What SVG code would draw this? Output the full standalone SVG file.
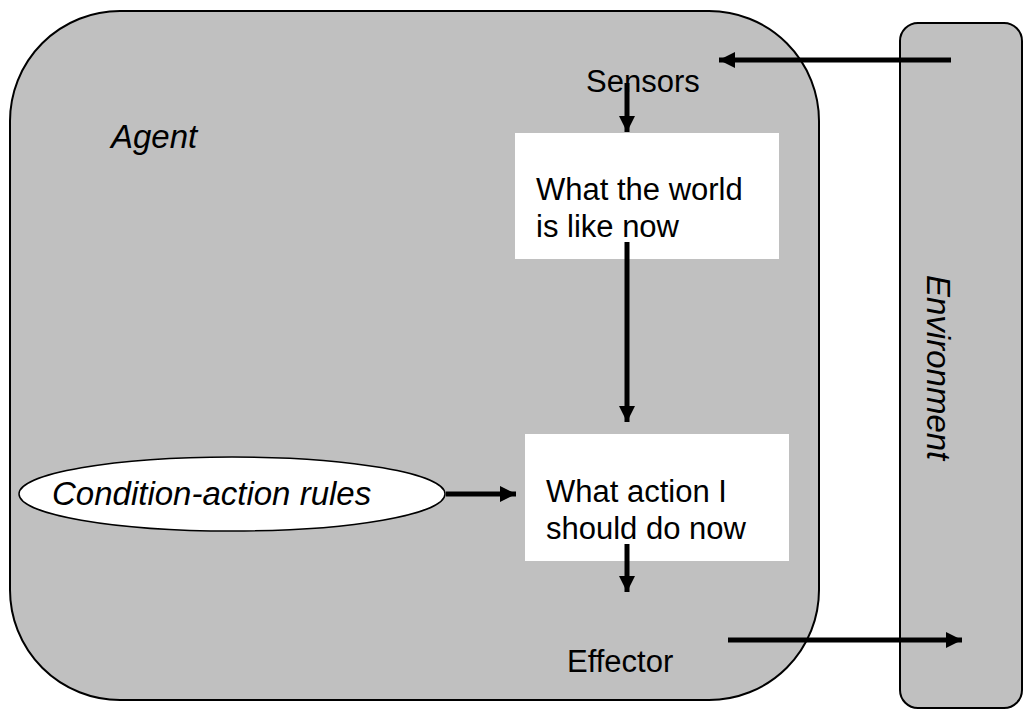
<svg xmlns="http://www.w3.org/2000/svg" width="1024" height="709" viewBox="0 0 1024 709">
<style>
.panel{fill:#c0c0c0;stroke:#000;stroke-width:2}
.box{fill:#fff;stroke:none}
.t{font-family:"Liberation Sans",Arial,sans-serif;font-size:31px;fill:#000}
.it{font-family:"Liberation Sans",Arial,sans-serif;font-size:33px;font-style:italic;fill:#000}
.c{stroke:#000;stroke-width:5;fill:none;marker-end:url(#ah)}
</style>
<defs>
<marker id="ah" markerUnits="userSpaceOnUse" markerWidth="16" markerHeight="16" refX="16" refY="8" orient="auto">
<path d="M0,0 L16,8 L0,16 z" fill="#000"/>
</marker>
</defs>
<g id="agent">
<rect class="panel" x="10" y="11" width="809" height="689" rx="110" ry="110"/>
<text class="it" x="111" y="148">Agent</text>
</g>
<g id="environment">
<rect class="panel" x="900" y="23" width="122" height="685" rx="18" ry="18"/>
<text class="it" transform="translate(927,275) rotate(90)">Environment</text>
</g>
<g id="sensors">
<text class="t" x="586" y="92">Sensors</text>
</g>
<g id="world">
<rect class="box" x="515" y="133" width="264" height="126"/>
<text class="t" x="536" y="200">What the world</text>
<text class="t" x="536" y="237">is like now</text>
</g>
<g id="action">
<rect class="box" x="525" y="434" width="264" height="127"/>
<text class="t" x="546" y="502">What action I</text>
<text class="t" x="546" y="539">should do now</text>
</g>
<g id="rules">
<ellipse cx="232" cy="494" rx="213" ry="37" fill="#fff" stroke="#000" stroke-width="1.5"/>
<text class="it" x="52" y="505">Condition-action rules</text>
</g>
<g id="effector">
<text class="t" x="567" y="672">Effector</text>
</g>
<g id="connectors">
<line class="c" x1="951" y1="60" x2="719" y2="60"/>
<line class="c" x1="627" y1="83" x2="627" y2="132"/>
<line class="c" x1="627" y1="242" x2="627" y2="422"/>
<line class="c" x1="446" y1="494" x2="516" y2="494"/>
<line class="c" x1="627" y1="544" x2="627" y2="592"/>
<line class="c" x1="728" y1="640" x2="962" y2="640"/>
</g>
</svg>
